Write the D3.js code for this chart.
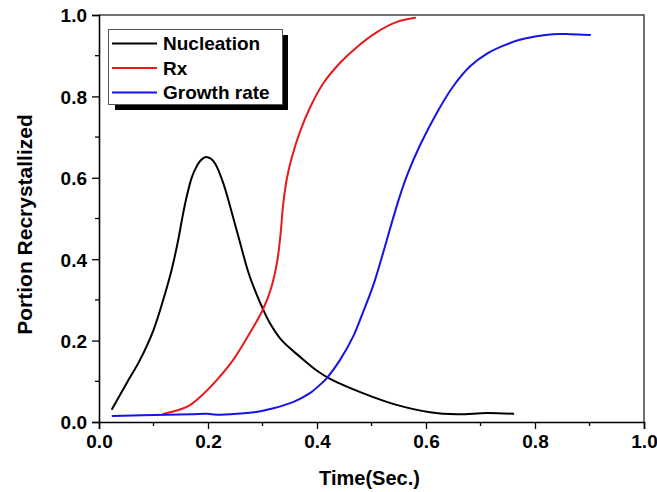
<!DOCTYPE html>
<html>
<head>
<meta charset="utf-8">
<script src="https://cdn.jsdelivr.net/npm/d3@7"></script>
<style>
  html, body { margin: 0; padding: 0; background: #fff; }
  svg { display: block; }
  text { font-family: "Liberation Sans", Arial, sans-serif; font-weight: bold; fill: #000; }
</style>
</head>
<body>
<svg id="chart" width="657" height="492"></svg>
<script>
// Series: [time (s), portion]
const nucleation = [
  [0.024,0.032],[0.051,0.096],[0.075,0.152],[0.100,0.226],[0.120,0.310],[0.134,0.378],
  [0.145,0.445],[0.154,0.510],[0.162,0.560],[0.170,0.600],[0.178,0.625],[0.186,0.642],
  [0.196,0.651],[0.205,0.647],[0.213,0.635],[0.228,0.587],[0.244,0.513],[0.259,0.440],
  [0.274,0.368],[0.289,0.314],[0.301,0.277],[0.314,0.242],[0.335,0.201],[0.369,0.160],
  [0.402,0.124],[0.424,0.106],[0.484,0.071],[0.546,0.042],[0.607,0.024],[0.657,0.019],
  [0.712,0.022],[0.760,0.020]
];
const rx = [
  [0.118,0.020],[0.161,0.037],[0.185,0.061],[0.216,0.103],[0.246,0.152],[0.277,0.219],
  [0.301,0.277],[0.316,0.330],[0.327,0.395],[0.333,0.460],[0.338,0.535],[0.345,0.600],
  [0.354,0.651],[0.369,0.714],[0.387,0.772],[0.411,0.831],[0.442,0.882],[0.473,0.921],
  [0.510,0.958],[0.547,0.983],[0.580,0.993]
];
const growthRate = [
  [0.025,0.015],[0.124,0.018],[0.170,0.019],[0.198,0.020],[0.216,0.018],[0.259,0.021],
  [0.285,0.024],[0.320,0.034],[0.356,0.049],[0.387,0.071],[0.406,0.092],
  [0.418,0.108],[0.442,0.152],[0.466,0.209],[0.484,0.268],[0.503,0.335],[0.519,0.405],
  [0.534,0.475],[0.552,0.555],[0.567,0.612],[0.589,0.680],[0.620,0.760],[0.650,0.825],
  [0.681,0.874],[0.712,0.905],[0.741,0.924],[0.772,0.939],[0.803,0.948],[0.833,0.953],
  [0.864,0.953],[0.901,0.951]
];
const seriesNames = ["Nucleation", "Rx", "Growth rate"];
const seriesColors = ["#000000", "#e8191b", "#1414e6"];
const xTicks = [0.0, 0.2, 0.4, 0.6, 0.8, 1.0];
const yTicks = [0.0, 0.2, 0.4, 0.6, 0.8, 1.0];
const xTitle = "Time(Sec.)";
const yTitle = "Portion Recrystallized";

const svg = d3.select("#chart");
const margin = { left: 99, top: 15, right: 13, bottom: 70 };
const W = 657, H = 492;
const x = d3.scaleLinear().domain([0, 1]).range([margin.left, W - margin.right]);
const y = d3.scaleLinear().domain([0, 1]).range([H - margin.bottom, margin.top]);

// frame (top & right)
svg.append("path")
  .attr("d", `M${x(0)},${y(1)}H${x(1)}V${y(0)}`)
  .attr("fill", "none").attr("stroke", "#444").attr("stroke-width", 1.5);

// minor ticks
const minorX = d3.range(0.1, 1.0, 0.2);
const minorY = d3.range(0.1, 1.0, 0.2);
svg.append("g").selectAll("line").data(minorX).join("line")
  .attr("x1", d => x(d)).attr("x2", d => x(d))
  .attr("y1", y(0)).attr("y2", y(0) + 4)
  .attr("stroke", "#000").attr("stroke-width", 1.3);
svg.append("g").selectAll("line").data(minorY).join("line")
  .attr("y1", d => y(d)).attr("y2", d => y(d))
  .attr("x1", x(0)).attr("x2", x(0) - 4)
  .attr("stroke", "#000").attr("stroke-width", 1.3);

// axes
const xAxis = d3.axisBottom(x).tickValues(xTicks).tickFormat(d3.format(".1f"))
  .tickSizeOuter(0).tickSize(7).tickPadding(6);
const yAxis = d3.axisLeft(y).tickValues(yTicks).tickFormat(d3.format(".1f"))
  .tickSizeOuter(0).tickSize(7).tickPadding(5);

const gx = svg.append("g").attr("transform", `translate(0,${y(0)})`).call(xAxis);
const gy = svg.append("g").attr("transform", `translate(${x(0)},0)`).call(yAxis);
[gx, gy].forEach(g => {
  g.select(".domain").attr("stroke", "#000").attr("stroke-width", 1.6);
  g.selectAll(".tick line").attr("stroke", "#000").attr("stroke-width", 1.3);
  g.selectAll(".tick text")
    .attr("font-family", "'Liberation Sans', Arial, sans-serif")
    .attr("font-weight", "bold").attr("font-size", 19).attr("fill", "#000");
});
gy.selectAll(".tick text").attr("dy", "0.36em");

// axis titles
svg.append("text")
  .attr("x", (x(0) + x(1)) / 2 - 2).attr("y", 485)
  .attr("text-anchor", "middle").attr("font-size", 20)
  .text(xTitle);
svg.append("text")
  .attr("transform", `translate(32,${(y(0) + y(1)) / 2 + 6}) rotate(-90)`)
  .attr("text-anchor", "middle").attr("font-size", 21)
  .text(yTitle);

// curves
const line = d3.line().x(d => x(d[0])).y(d => y(d[1])).curve(d3.curveCatmullRom.alpha(0.5));
[nucleation, rx, growthRate].forEach((s, i) => {
  svg.append("path").datum(s)
    .attr("d", line)
    .attr("fill", "none")
    .attr("stroke", seriesColors[i])
    .attr("stroke-width", 2)
    .attr("stroke-linejoin", "round")
    .attr("stroke-linecap", "round");
});

// legend with drop shadow
const lg = svg.append("g");
lg.append("rect").attr("x", 115).attr("y", 35).attr("width", 173).attr("height", 75).attr("fill", "#000");
lg.append("rect").attr("x", 108.5).attr("y", 29.5).attr("width", 174).attr("height", 75)
  .attr("fill", "#fff").attr("stroke", "#555").attr("stroke-width", 1);
seriesNames.forEach((name, i) => {
  const cy = 43.5 + i * 24.5;
  lg.append("line").attr("x1", 112).attr("x2", 157).attr("y1", cy).attr("y2", cy)
    .attr("stroke", seriesColors[i]).attr("stroke-width", 2);
  lg.append("text").attr("x", 163).attr("y", cy + 6.5).attr("font-size", 19).text(name);
});
</script>
</body>
</html>
